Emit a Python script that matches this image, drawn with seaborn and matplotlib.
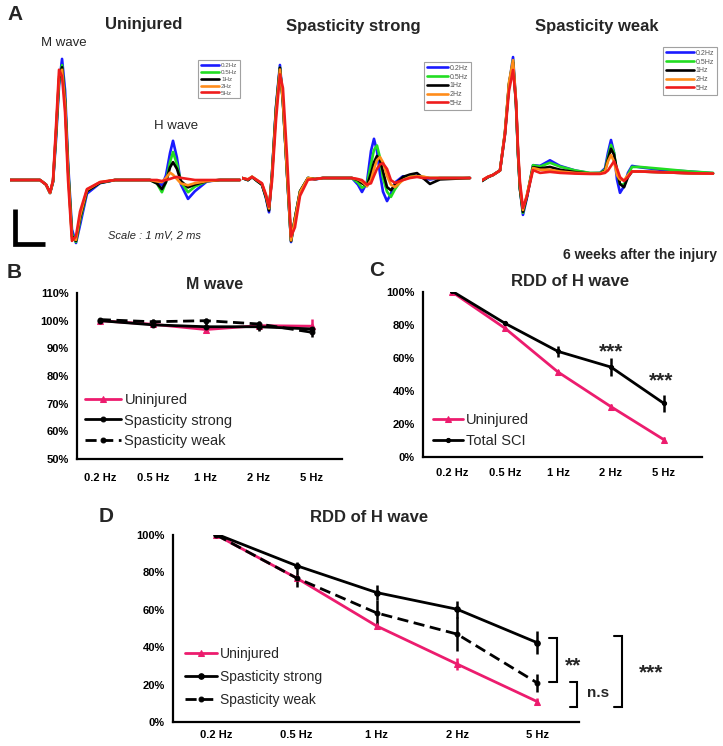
import numpy as np
import matplotlib
matplotlib.use("Agg")
import matplotlib.pyplot as plt
import seaborn as sns

W, H = 723, 746

freq_labels = ["0.2Hz", "0.5Hz", "1Hz", "2Hz", "5Hz"]
trace_colors = ["#1a1aff", "#22dd22", "#000000", "#ff8c1a", "#ee1c1c"]

uninj_t = [0, 2.0, 2.4, 2.67, 2.87, 3.07, 3.27, 3.47, 3.67, 3.87, 4.13, 4.4, 4.67, 5.13,
           6.0, 7.0, 9.33, 9.8, 10.13, 10.4, 10.67, 10.87, 11.13, 11.4, 11.87, 12.33,
           13.13, 14.0, 15.33]
uninj_02 = [0, 0, -0.13, -0.37, -0.06, 1.16, 2.7, 3.46, 2.57, 0.51, -1.41, -1.8, -1.29, -0.39,
            -0.09, 0, 0, -0.04, -0.15, 0.13, 0.77, 1.12, 0.64, -0.13, -0.54, -0.32, -0.04, 0, 0]
uninj_05 = [0, 0, -0.13, -0.37, -0.04, 1.29, 2.83, 3.28, 2.31, 0.39, -1.54, -1.77, -1.16, -0.32,
            -0.08, 0, 0, -0.1, -0.35, -0.06, 0.51, 0.8, 0.45, -0.06, -0.35, -0.19, -0.03, 0, 0]
uninj_1 = [0, 0, -0.13, -0.37, -0.04, 1.35, 2.89, 3.22, 2.25, 0.32, -1.61, -1.74, -1.09, -0.32,
           -0.08, 0, 0, -0.1, -0.26, -0.06, 0.36, 0.51, 0.32, -0.03, -0.21, -0.13, -0.03, 0, 0]
uninj_2 = [0, 0, -0.13, -0.37, -0.03, 1.41, 2.96, 3.15, 2.19, 0.26, -1.67, -1.71, -1.03, -0.28,
           -0.06, 0, 0, -0.04, -0.06, 0.06, 0.21, 0.15, 0.03, -0.1, -0.15, -0.09, -0.03, 0, 0]
uninj_5 = [0, 0, -0.13, -0.36, 0, 1.54, 3.15, 2.96, 1.93, 0, -1.74, -1.61, -0.9, -0.26,
           -0.06, 0, 0, 0, -0.03, 0, 0.03, 0.06, 0.09, 0.06, 0.03, 0, 0, 0, 0]

strong_t = [0, 0.4, 0.67, 0.93, 1.33, 1.6, 1.8, 2.0, 2.27, 2.53, 2.73, 3.0, 3.27, 3.53, 3.87,
            4.4, 4.87, 5.4, 7.33, 7.73, 8.0, 8.33, 8.6, 8.8, 9.0, 9.2, 9.4, 9.67, 9.93, 10.2,
            10.73, 11.2, 11.67, 12.07, 12.53, 13.2, 15.2]
strong_02 = [0, -0.06, 0.03, -0.06, -0.19, -0.58, -0.98, 0.13, 2.06, 3.23, 2.19, 0.13, -1.83,
             -1.16, -0.39, 0, -0.04, 0, 0, -0.19, -0.4, -0.13, 0.77, 1.12, 0.77, 0.13, -0.39,
             -0.66, -0.45, -0.13, 0.05, 0.03, 0.06, 0, -0.04, 0, 0]
strong_05 = [0, -0.06, 0.03, -0.06, -0.19, -0.55, -0.9, 0.1, 2.0, 3.15, 2.15, 0.15, -1.8,
             -1.15, -0.38, 0, -0.03, 0, 0, -0.13, -0.28, -0.19, 0.39, 0.8, 0.93, 0.58, 0,
             -0.39, -0.54, -0.32, 0, 0.04, 0.05, 0.03, 0, 0, 0]
strong_1 = [0, -0.06, 0.03, -0.06, -0.19, -0.55, -0.93, 0.1, 2.0, 3.15, 2.15, 0.15, -1.8,
            -1.15, -0.38, 0, -0.03, 0, 0, -0.06, -0.15, -0.23, 0.13, 0.45, 0.63, 0.51, 0.19,
            -0.26, -0.35, -0.19, 0.03, 0.1, 0.14, 0, -0.17, -0.04, 0]
strong_2 = [0, -0.04, 0.04, -0.04, -0.16, -0.5, -0.87, 0.05, 1.9, 3.1, 2.2, 0.2, -1.78,
            -1.2, -0.4, 0, -0.03, 0, 0, -0.04, -0.1, -0.23, -0.06, 0.26, 0.51, 0.6, 0.45,
            0.06, -0.19, -0.26, -0.06, 0.03, 0.05, 0.04, 0, 0, 0]
strong_5 = [0, -0.04, 0.03, -0.04, -0.15, -0.48, -0.82, -0.1, 1.67, 2.96, 2.57, 0.64, -1.67,
            -1.41, -0.51, -0.05, -0.03, 0, 0, -0.03, -0.06, -0.19, -0.15, 0.06, 0.26, 0.39,
            0.42, 0.26, -0.06, -0.14, -0.06, 0, 0.03, 0, 0, 0, 0]

weak_t = [0, 0.4, 0.73, 1.2, 1.53, 1.8, 2.07, 2.27, 2.4, 2.53, 2.73, 3.0, 3.4, 3.87, 4.53,
          5.2, 6.2, 7.2, 7.87, 8.2, 8.4, 8.6, 8.8, 9.0, 9.2, 9.47, 9.73, 10.0, 10.53, 11.87,
          13.87, 15.4]
weak_02 = [-0.17, -0.06, 0, 0.13, 1.16, 2.57, 3.37, 2.06, 0.64, -0.39, -1.14, -0.64, 0.28,
           0.26, 0.42, 0.26, 0.13, 0.05, 0.06, 0.19, 0.64, 1.0, 0.64, -0.13, -0.51, -0.32,
           0.06, 0.26, 0.22, 0.15, 0.1, 0.05]
weak_05 = [-0.17, -0.06, 0, 0.13, 1.18, 2.6, 3.28, 2.0, 0.6, -0.4, -1.08, -0.6, 0.28, 0.24,
           0.35, 0.24, 0.13, 0.06, 0.06, 0.15, 0.51, 0.86, 0.64, 0.06, -0.26, -0.28, 0, 0.23,
           0.23, 0.18, 0.1, 0.06]
weak_1 = [-0.17, -0.06, 0, 0.13, 1.2, 2.6, 3.22, 2.0, 0.6, -0.4, -1.05, -0.6, 0.22, 0.19,
          0.23, 0.15, 0.08, 0.04, 0.04, 0.12, 0.45, 0.75, 0.58, 0.13, -0.26, -0.35, -0.06,
          0.1, 0.1, 0.08, 0.05, 0.04]
weak_2 = [-0.15, -0.05, 0, 0.13, 1.22, 2.65, 3.28, 2.1, 0.7, -0.3, -1.0, -0.55, 0.2, 0.15,
          0.15, 0.1, 0.06, 0.04, 0.04, 0.1, 0.39, 0.57, 0.39, 0, -0.13, -0.15, 0, 0.1, 0.1,
          0.08, 0.05, 0.04]
weak_5 = [-0.15, -0.05, 0, 0.13, 1.15, 2.4, 3.0, 2.1, 0.75, -0.2, -0.94, -0.6, 0.14, 0.06,
          0.09, 0.06, 0.04, 0.03, 0.03, 0.06, 0.13, 0.26, 0.39, 0.19, -0.06, -0.17, -0.06,
          0.1, 0.1, 0.08, 0.05, 0.04]

# ---------------- panels B-D: % of 0.2 Hz response ----------------
freqs = ["0.2 Hz", "0.5 Hz", "1 Hz", "2 Hz", "5 Hz"]

b_uninj = [100.0, 98.7, 96.8, 98.2, 98.0]
b_uninj_err = [0.5, 0.8, 1.4, 1.2, 2.7]
b_strong = [100.0, 98.5, 97.8, 97.8, 97.0]
b_strong_err = [0.5, 0.8, 1.5, 1.5, 1.5]
b_weak = [100.4, 99.6, 100.0, 98.8, 95.8]
b_weak_err = [0.5, 1.0, 1.0, 1.2, 1.8]

c_uninj = [100.0, 78.0, 51.5, 30.5, 10.5]
c_uninj_err = [0.5, 1.0, 1.0, 1.5, 1.5]
c_sci = [100.5, 81.0, 64.0, 54.5, 32.5]
c_sci_err = [0.5, 1.0, 3.5, 5.5, 5.0]

d_uninj = [100.0, 77.0, 51.3, 31.0, 10.9]
d_uninj_err = [0.5, 1.0, 1.0, 3.0, 2.0]
d_strong = [100.5, 83.6, 69.2, 60.3, 42.4]
d_strong_err = [0.5, 2.0, 4.0, 4.5, 6.2]
d_weak = [100.0, 77.0, 58.3, 47.0, 20.9]
d_weak_err = [0.5, 5.0, 7.0, 9.0, 5.0]

PINK = "#ec1c6e"

sns.set_style("white")
plt.rcParams["font.family"] = ["Liberation Sans", "DejaVu Sans"]

fig = plt.figure(figsize=(W / 100, H / 100), dpi=100)


def add_ax(l, t, r, b):
    return fig.add_axes([l / W, 1 - b / H, (r - l) / W, (b - t) / H])


def ftext(x, y, s, **kw):
    fig.text(x / W, 1 - y / H, s, ha=kw.pop("ha", "center"), va=kw.pop("va", "center"), **kw)


def wave_panel(rect, t, traces, xlim, ylim, leg_xy, leg_fs, leg_hl):
    ax = add_ax(*rect)
    for vals, col, lab in zip(traces, trace_colors, freq_labels):
        sns.lineplot(x=t, y=vals, ax=ax, color=col, linewidth=1.9, label=lab,
                     errorbar=None, sort=False)
    ax.set_xlim(xlim)
    ax.set_ylim(ylim)
    ax.axis("off")
    leg = ax.legend(loc="upper left", bbox_to_anchor=(leg_xy[0] / W, 1 - leg_xy[1] / H),
                    bbox_transform=fig.transFigure, fontsize=leg_fs, frameon=True,
                    fancybox=False, edgecolor="#8a8a8a", handlelength=leg_hl,
                    borderpad=0.4, labelspacing=0.25, handletextpad=0.3, borderaxespad=0)
    leg.get_frame().set_linewidth(0.8)
    for txt in leg.get_texts():
        txt.set_color("#555555")
    return ax


axA1 = wave_panel((10, 40, 242, 250), uninj_t,
                  [uninj_02, uninj_05, uninj_1, uninj_2, uninj_5],
                  (0, 15.47), (-2.0, 4.0), (198, 60), 4.5, 3.0)
axA2 = wave_panel((242, 40, 480, 250), strong_t,
                  [strong_02, strong_05, strong_1, strong_2, strong_5],
                  (0, 15.87), (-2.057, 3.943), (424, 62), 5.0, 3.0)
axA3 = wave_panel((482, 40, 722, 250), weak_t,
                  [weak_02, weak_05, weak_1, weak_2, weak_5],
                  (0, 16.0), (-2.143, 3.857), (663, 47), 5.0, 4.0)

# scale bar 1 mV / 2 ms
axA1.plot([0.33, 0.33, 2.33], [-0.83, -1.83, -1.83], color="black", linewidth=3.4,
          solid_joinstyle="miter", solid_capstyle="butt", clip_on=False)

ftext(15, 14, "A", fontsize=15, fontweight="bold")
ftext(144, 24, "Uninjured", fontsize=12, fontweight="bold")
ftext(353, 27, "Spasticity strong", fontsize=12, fontweight="bold")
ftext(597, 26, "Spasticity weak", fontsize=12, fontweight="bold")
ftext(64, 43, "M wave", fontsize=9.5)
ftext(176, 126, "H wave", fontsize=9.5)
ftext(155, 236, "Scale : 1 mV, 2 ms", fontsize=8, style="italic")
ftext(717, 255, "6 weeks after the injury", fontsize=10, fontweight="bold", ha="right")

xpos = np.arange(len(freqs))


def series(ax, y, err, color, marker, ls, label, ms):
    ax.errorbar(xpos, y, yerr=err, fmt="none", ecolor=color, elinewidth=1.8,
                capsize=0, zorder=2)
    sns.lineplot(x=xpos, y=y, ax=ax, color=color, marker=marker, markersize=ms,
                 markeredgecolor=color, linewidth=2.0, linestyle=ls, label=label,
                 errorbar=None, zorder=3)


def style_axes(ax, xlim, ylim, yticks, xpad, fs=8):
    ax.set_xlim(xlim)
    ax.set_ylim(ylim)
    ax.set_xticks(xpos)
    ax.set_xticklabels(freqs, fontsize=fs, fontweight="bold")
    ax.set_yticks(yticks)
    ax.set_yticklabels([f"{v}%" for v in yticks], fontsize=fs, fontweight="bold")
    ax.set_xlabel("")
    ax.set_ylabel("")
    ax.grid(False)
    for s in ["top", "right"]:
        ax.spines[s].set_visible(False)
    for s in ["left", "bottom"]:
        ax.spines[s].set_linewidth(1.6)
        ax.spines[s].set_color("black")
    ax.tick_params(axis="both", length=0, colors="black")
    ax.tick_params(axis="x", pad=xpad)
    ax.tick_params(axis="y", pad=6)


def place_legend(ax, left, top, fs, hl, ls):
    ax.legend(loc="upper left", bbox_to_anchor=(left / W, 1 - top / H),
              bbox_transform=fig.transFigure, frameon=False, fontsize=fs,
              handlelength=hl, handletextpad=0.2, labelspacing=ls, borderpad=0,
              borderaxespad=0)


DASH = (0, (4, 2))

# ---- B ----
axB = add_ax(77, 293, 342, 459)
series(axB, b_uninj, b_uninj_err, PINK, "^", "-", "Uninjured", 4)
series(axB, b_strong, b_strong_err, "black", "o", "-", "Spasticity strong", 3.5)
series(axB, b_weak, b_weak_err, "black", "o", DASH, "Spasticity weak", 3.5)
style_axes(axB, (-0.43, 4.57), (50, 110), [50, 60, 70, 80, 90, 100, 110], 10)
place_legend(axB, 85, 393, 10.5, 2.5, 0.45)
ftext(14, 272, "B", fontsize=15, fontweight="bold")
ftext(215, 285, "M wave", fontsize=11.5, fontweight="bold")

# ---- C ----
axC = add_ax(423, 292, 702, 457)
series(axC, c_uninj, c_uninj_err, PINK, "^", "-", "Uninjured", 4)
series(axC, c_sci, c_sci_err, "black", "o", "-", "Total SCI", 3)
style_axes(axC, (-0.55, 4.72), (0, 100), [0, 20, 40, 60, 80, 100], 8)
place_legend(axC, 433, 413, 10.5, 2.05, 0.48)
axC.text(3, 64, "***", fontsize=15, fontweight="bold", ha="center", va="center")
axC.text(3.95, 46, "***", fontsize=15, fontweight="bold", ha="center", va="center")
ftext(377, 271, "C", fontsize=15, fontweight="bold")
ftext(570, 282, "RDD of H wave", fontsize=12, fontweight="bold")

# ---- D ----
axD = add_ax(173, 535, 579, 722)
series(axD, d_uninj, d_uninj_err, PINK, "^", "-", "Uninjured", 4)
series(axD, d_strong, d_strong_err, "black", "o", "-", "Spasticity strong", 4)
series(axD, d_weak, d_weak_err, "black", "o", DASH, "Spasticity weak", 3.5)
style_axes(axD, (-0.54, 4.52), (0, 100), [0, 20, 40, 60, 80, 100], 6)
place_legend(axD, 185, 647, 10, 2.3, 0.65)

bk = dict(color="black", linewidth=1.5, clip_on=False, solid_joinstyle="miter")
axD.plot([4.14, 4.24, 4.24, 4.14], [44.8, 44.8, 21.4, 21.4], **bk)
axD.plot([4.41, 4.50, 4.50, 4.41], [21.4, 21.4, 8.2, 8.2], **bk)
axD.plot([4.96, 5.05, 5.05, 4.96], [45.8, 45.8, 8.2, 8.2], **bk)
axD.text(4.44, 30, "**", fontsize=15, fontweight="bold", ha="center", va="center",
         clip_on=False)
axD.text(4.76, 15.5, "n.s", fontsize=11, fontweight="bold", ha="center", va="center",
         clip_on=False)
axD.text(5.42, 26, "***", fontsize=15, fontweight="bold", ha="center", va="center",
         clip_on=False)
ftext(106, 516, "D", fontsize=15, fontweight="bold")
ftext(369, 518, "RDD of H wave", fontsize=12, fontweight="bold")

fig.savefig("out.png", dpi=100)
